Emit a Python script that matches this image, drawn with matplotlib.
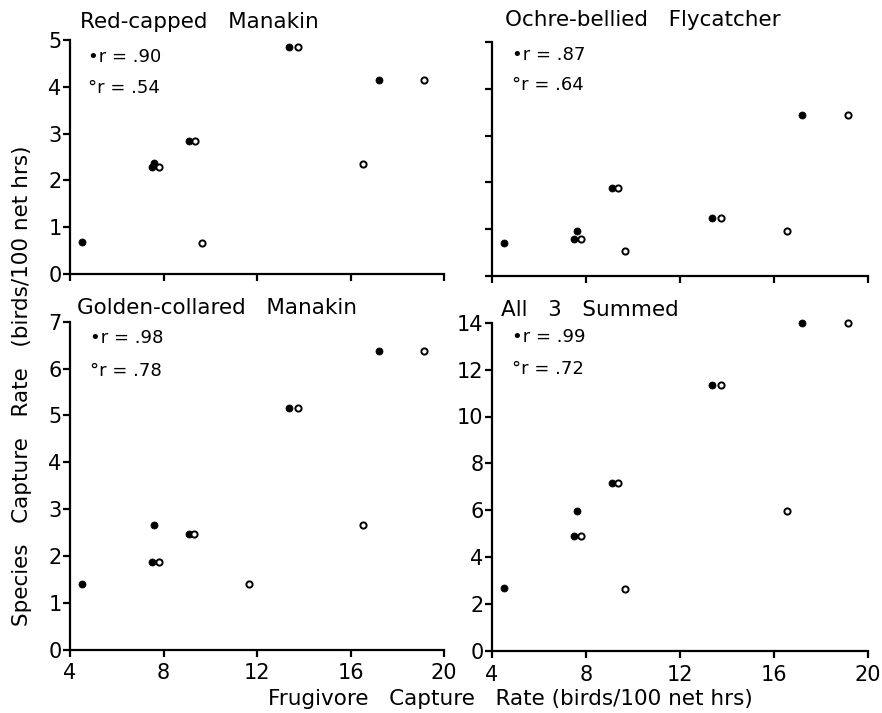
import matplotlib
matplotlib.use("Agg")
import matplotlib.pyplot as plt

W, H = 882, 713

# ---- data ----
filled_x = [4.5, 7.5, 7.6, 9.1, 13.35, 17.2]
open_x = [7.8, 9.35, 9.65, 13.75, 16.55, 19.15]
open_x_golden = [7.8, 9.3, 11.65, 13.75, 16.55, 19.15]

red_filled = [0.68, 2.28, 2.38, 2.85, 4.86, 4.15]
red_open = [2.28, 2.85, 0.66, 4.86, 2.35, 4.15]
ochre_filled = [0.70, 0.80, 0.97, 1.87, 1.25, 3.43]
ochre_open = [0.80, 1.87, 0.53, 1.25, 0.97, 3.43]
golden_filled = [1.39, 1.87, 2.66, 2.47, 5.16, 6.37]
golden_open = [1.87, 2.47, 1.39, 5.16, 2.66, 6.38]
summed_filled = [2.68, 4.91, 5.99, 7.18, 11.33, 14.0]
summed_open = [4.91, 7.18, 2.66, 11.33, 5.99, 14.0]

titles = ["Red-capped   Manakin", "Ochre-bellied   Flycatcher",
          "Golden-collared   Manakin", "All   3   Summed"]
r_filled = [".90", ".87", ".98", ".99"]
r_open = [".54", ".64", ".78", ".72"]
x_ticks = [4, 8, 12, 16, 20]
y_ticks = [[0, 1, 2, 3, 4, 5], [0, 1, 2, 3, 4, 5],
           [0, 1, 2, 3, 4, 5, 6, 7], [0, 2, 4, 6, 8, 10, 12, 14]]
y_lims = [5, 5, 7, 14]

panels = [
    (filled_x, red_filled, open_x, red_open),
    (filled_x, ochre_filled, open_x, ochre_open),
    (filled_x, golden_filled, open_x_golden, golden_open),
    (filled_x, summed_filled, open_x, summed_open),
]

# pixel boxes: left, right, y of 0, y of top
boxes = [(70, 444, 274, 40), (492, 868, 276, 42),
         (70, 444, 649.5, 321.7), (492, 868, 651, 322.7)]
title_pos = [(80, 22), (505, 20), (77, 308), (501, 310)]
r_pos = [(88, 57, 88), (512, 55, 85), (90, 338, 371), (512, 337, 369)]

fig = plt.figure(figsize=(W / 100, H / 100), dpi=100)
fig.patch.set_facecolor("white")

for i, (box, data) in enumerate(zip(boxes, panels)):
    l, r, y0, yt = box
    ax = fig.add_axes([l / W, 1 - y0 / H, (r - l) / W, (y0 - yt) / H])
    fx, fy, ox, oy = data
    ax.scatter(fx, fy, s=26, c="black", edgecolors="black", linewidths=0.5,
               zorder=3, clip_on=False)
    ax.scatter(ox, oy, s=20, facecolors="white", edgecolors="black",
               linewidths=1.4, zorder=3, clip_on=False)
    ax.set_xlim(4, 20)
    ax.set_ylim(0, y_lims[i])
    ax.set_xticks(x_ticks)
    ax.set_yticks(y_ticks[i])
    for s in ["top", "right"]:
        ax.spines[s].set_visible(False)
    for s in ["left", "bottom"]:
        ax.spines[s].set_linewidth(1.6)
    ax.tick_params(axis="both", direction="out", length=5, width=1.6,
                   labelsize=15, pad=1)
    if i < 2:
        ax.set_xticklabels([])
    else:
        ax.tick_params(axis="x", pad=5)
    if i == 1:
        ax.set_yticklabels([])
    tx, ty = title_pos[i]
    fig.text(tx / W, 1 - ty / H, titles[i], fontsize=15.5, va="center",
             ha="left")
    rx, ry1, ry2 = r_pos[i]
    fig.text(rx / W, 1 - ry1 / H, "\u2022r = " + r_filled[i], fontsize=13,
             va="center", ha="left")
    fig.text(rx / W, 1 - ry2 / H, "\u00b0r = " + r_open[i], fontsize=13,
             va="center", ha="left")

fig.text(22 / W, 1 - 386 / H, "Species   Capture   Rate   (birds/100 net hrs)",
         rotation=90, fontsize=15.5, va="center", ha="center")
fig.text(510 / W, 1 - 699 / H, "Frugivore   Capture   Rate (birds/100 net hrs)",
         fontsize=15.5, va="center", ha="center")

fig.savefig("out.png", dpi=100)
